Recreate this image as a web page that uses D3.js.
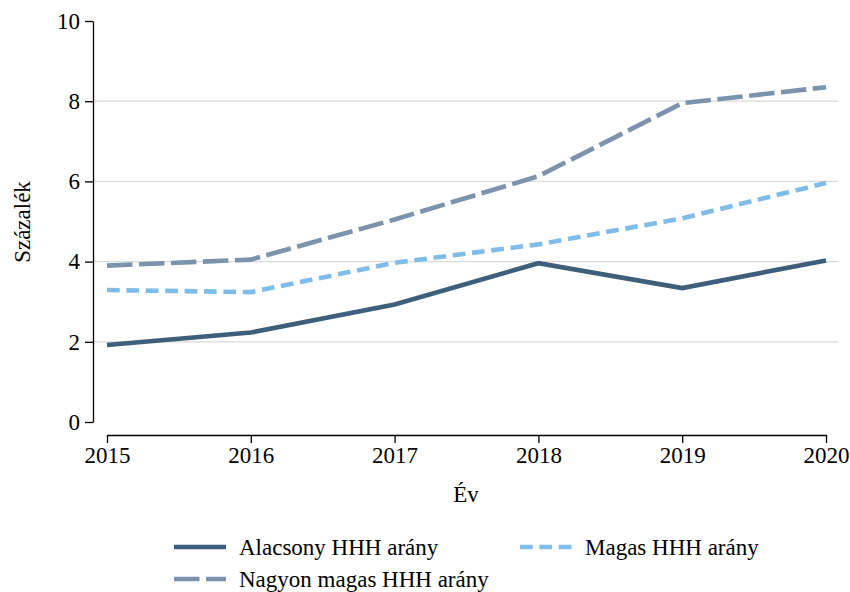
<!DOCTYPE html>
<html>
<head>
<meta charset="utf-8">
<script src="https://cdn.jsdelivr.net/npm/d3@7"></script>
<style>
  body { margin: 0; background: #fff; }
  svg { display: block; font-family: "Liberation Serif", "Times New Roman", serif; }
</style>
</head>
<body>
<div id="chart"></div>
<script>
const years = [2015, 2016, 2017, 2018, 2019, 2020];
const alacsony = [1.92, 2.23, 2.93, 3.96, 3.34, 4.03];
const nagyonMagas = [3.9, 4.05, 5.05, 6.13, 7.95, 8.35];
const magas = [3.29, 3.24, 3.97, 4.43, 5.08, 5.96];
const yTicks = [0, 2, 4, 6, 8, 10];

const series = [
  { name: "Alacsony HHH arány", values: alacsony, color: "#3e5f7b", dash: null },
  { name: "Nagyon magas HHH arány", values: nagyonMagas, color: "#7b93ad", dash: "25.5,6.5" },
  { name: "Magas HHH arány", values: magas, color: "#7fbde8", dash: "12.7,6.7" }
];

const width = 850, height = 592;
const fs = 23;
const svg = d3.select("#chart").append("svg")
  .attr("width", width).attr("height", height);

const x = d3.scaleLinear().domain([2015, 2020]).range([107, 826]);
const y = d3.scaleLinear().domain([0, 10]).range([422, 21]);

// gridlines
svg.append("g").selectAll("line")
  .data(yTicks.filter(d => d > 0 && d < 10))
  .join("line")
  .attr("x1", 93).attr("x2", 838)
  .attr("y1", d => y(d)).attr("y2", d => y(d))
  .attr("stroke", "#d9d9d9").attr("stroke-width", 1.2);

// y axis
const yAxis = svg.append("g")
  .attr("transform", "translate(93,0)")
  .call(d3.axisLeft(y).tickValues(yTicks).tickSize(8).tickPadding(5).tickSizeOuter(0));
yAxis.attr("font-size", fs).attr("font-family", "Liberation Serif");
yAxis.select(".domain").attr("stroke", "#000").attr("stroke-width", 1.3);
yAxis.selectAll(".tick line").attr("stroke", "#000").attr("stroke-width", 1.3);
yAxis.selectAll("text").attr("fill", "#000");

// x axis
const xAxis = svg.append("g")
  .attr("transform", "translate(0,435)")
  .call(d3.axisBottom(x).tickValues(years).tickFormat(d3.format("d")).tickSize(8).tickPadding(4).tickSizeOuter(0));
xAxis.attr("font-size", fs).attr("font-family", "Liberation Serif");
xAxis.select(".domain").attr("stroke", "#000").attr("stroke-width", 1.3);
xAxis.selectAll(".tick line").attr("stroke", "#000").attr("stroke-width", 1.3);
xAxis.selectAll("text").attr("fill", "#000");

// axis titles
svg.append("text")
  .attr("transform", "translate(30,222) rotate(-90)")
  .attr("text-anchor", "middle")
  .attr("font-size", fs)
  .text("Százalék");
svg.append("text")
  .attr("x", 466).attr("y", 502)
  .attr("text-anchor", "middle")
  .attr("font-size", fs)
  .text("Év");

// lines
const line = d3.line().x((d, i) => x(years[i])).y(d => y(d));
svg.append("g").selectAll("path")
  .data(series)
  .join("path")
  .attr("d", d => line(d.values))
  .attr("fill", "none")
  .attr("stroke", d => d.color)
  .attr("stroke-width", 4.6)
  .attr("stroke-dasharray", d => d.dash);

// legend
const legendPos = [
  { x: 174, y: 547 },
  { x: 174, y: 579 },
  { x: 520, y: 547 }
];
const legend = svg.append("g").selectAll("g")
  .data(series)
  .join("g")
  .attr("transform", (d, i) => `translate(${legendPos[i].x},${legendPos[i].y})`);
legend.append("line")
  .attr("x1", 0).attr("x2", 52)
  .attr("stroke", d => d.color)
  .attr("stroke-width", 4.6)
  .attr("stroke-dasharray", d => d.dash);
legend.append("text")
  .attr("x", 65)
  .attr("y", 0)
  .attr("dy", "0.33em")
  .attr("font-size", fs)
  .text(d => d.name);
</script>
</body>
</html>
